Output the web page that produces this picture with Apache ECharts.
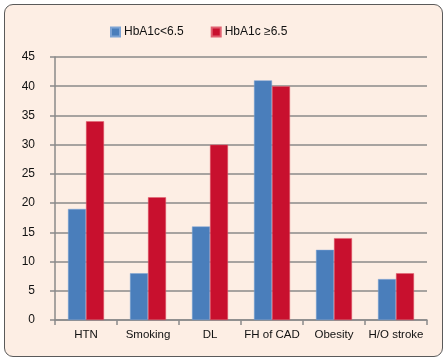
<!DOCTYPE html>
<html><head><meta charset="utf-8">
<script src="https://cdn.jsdelivr.net/npm/echarts@6/dist/echarts.min.js"></script>
<style>
html,body{margin:0;padding:0;background:#fff;}
#frame{position:absolute;left:4px;top:4px;width:437px;height:351px;border:1.5px solid #5a5a5a;border-radius:9px;background:#fdeee4;}
#chart{position:absolute;left:0;top:0;width:448px;height:363px;}
</style></head>
<body>
<div id="frame"></div>
<div id="chart"></div>
<script>
const categories = ['HTN','Smoking','DL','FH of CAD','Obesity','H/O stroke'];
const seriesNames = ['HbA1c<6.5','HbA1c \u22656.5'];
const lowValues = [19, 8, 16, 41, 12, 7];
const highValues = [34, 21, 30, 40, 14, 8];
const yTicks = {min:0, max:45, interval:5};

const chart = echarts.init(document.getElementById('chart'), null, {renderer:'canvas'});
const font = {fontFamily:'Liberation Sans, Arial, sans-serif', fontSize:12, color:'#111'};
chart.setOption({
  backgroundColor:'transparent',
  animation:false,
  legend:{
    top:26, left:110, padding:0, itemWidth:9, itemHeight:9, itemGap:27,
    icon:'rect',
    textStyle:Object.assign({}, font, {fontSize:12, padding:[0,0,0,-1]}),
    data:seriesNames
  },
  grid:{left:55, right:21, top:57, bottom:43, containLabel:false},
  xAxis:{
    type:'category', data:categories,
    axisLine:{lineStyle:{color:'#8a8a8a', width:1.5}},
    axisTick:{show:true, length:5, lineStyle:{color:'#8a8a8a', width:1.5}},
    axisLabel:Object.assign({}, font, {margin:9, interval:0, fontSize:11.5}),
  },
  yAxis:{
    type:'value', min:yTicks.min, max:yTicks.max, interval:yTicks.interval,
    axisLine:{show:true, lineStyle:{color:'#8a8a8a', width:1.5}},
    axisTick:{show:true, length:5, lineStyle:{color:'#8a8a8a', width:1.5}},
    splitLine:{lineStyle:{color:'#8a8a8a', width:1.5}},
    axisLabel:Object.assign({}, font, {margin:20}),
  },
  series:[
    {name:seriesNames[0], type:'bar', data:lowValues, barWidth:18, barGap:'0%',
     itemStyle:{color:'#4a7ebb', borderColor:'#7da3d4', borderWidth:0.5}},
    {name:seriesNames[1], type:'bar', data:highValues, barWidth:18, barGap:'0%',
     itemStyle:{color:'#c8102e', borderColor:'#e06070', borderWidth:0.5}}
  ]
});
</script>
</body></html>
